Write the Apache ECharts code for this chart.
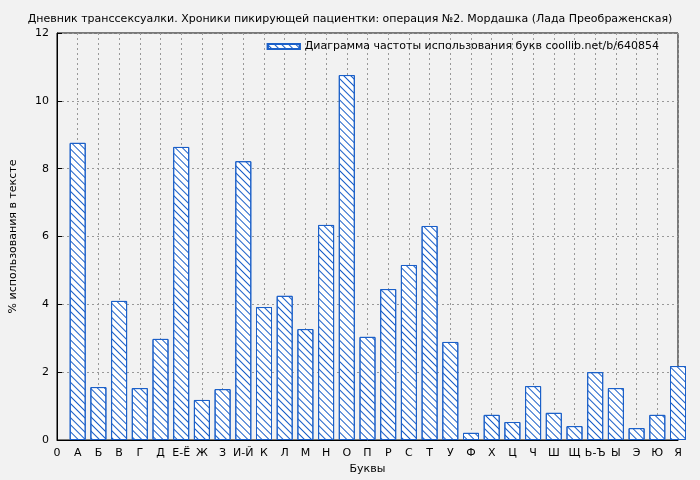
<!DOCTYPE html>
<html>
<head>
<meta charset="utf-8">
<script src="https://cdn.jsdelivr.net/npm/echarts@6/dist/echarts.min.js"></script>
<style>html,body{margin:0;background:#f2f2f2}#chart{width:700px;height:480px}</style>
</head>
<body>
<div id="chart"></div>
<script>
const letters = ['0', 'А', 'Б', 'В', 'Г', 'Д', 'Е-Ё', 'Ж', 'З', 'И-Й', 'К', 'Л', 'М', 'Н', 'О', 'П', 'Р', 'С', 'Т', 'У', 'Ф', 'Х', 'Ц', 'Ч', 'Ш', 'Щ', 'Ь-Ъ', 'Ы', 'Э', 'Ю', 'Я'];
const values = [8.76, 1.56, 4.10, 1.53, 2.98, 8.64, 1.18, 1.50, 8.22, 3.92, 4.25, 3.27, 6.34, 10.76, 3.04, 4.45, 5.16, 6.31, 2.89, 0.21, 0.74, 0.53, 1.59, 0.80, 0.41, 2.00, 1.53, 0.35, 0.74, 2.18];

const chart = echarts.init(document.getElementById('chart'));
const font = 'DejaVu Sans';
const dotted = { show: true, lineStyle: { color: '#999', type: [2, 3], width: 1 } };
const hatch = {
  color: '#ffffff',
  borderColor: '#1a5fc8',
  borderWidth: 1,
  decal: {
    symbol: 'rect',
    symbolSize: 1,
    color: '#1a5fc8',
    dashArrayX: [1, 0],
    dashArrayY: [1, 4],
    rotation: Math.PI / 4
  }
};

chart.setOption({
  backgroundColor: '#f2f2f2',
  animation: false,
  textStyle: { fontFamily: font },
  title: {
    text: 'Дневник транссексуалки. Хроники пикирующей пациентки: операция №2. Мордашка (Лада Преображенская)',
    left: 'center', top: 9,
    textStyle: { fontSize: 11, fontWeight: 'normal', color: '#000', fontFamily: font }
  },
  legend: {
    top: 36, right: 36,
    itemWidth: 32, itemHeight: 5,
    textStyle: { fontSize: 11, color: '#000', fontFamily: font },
    data: [{ name: 'Диаграмма частоты использования букв coollib.net/b/640854', icon: 'rect' }]
  },
  grid: { left: 53, right: 22, top: 33, bottom: 40, show: true, borderColor: '#000', borderWidth: 1, backgroundColor: 'transparent' },
  xAxis: {
    type: 'value', min: 0, max: 30, interval: 1,
    name: 'Буквы', nameLocation: 'middle', nameGap: 24,
    nameTextStyle: { fontSize: 11, color: '#000' },
    axisLine: { lineStyle: { color: '#000' } },
    axisTick: { inside: true, length: 5, lineStyle: { color: '#000' } },
    axisLabel: { fontSize: 11, color: '#000', formatter: v => letters[v] || '' },
    splitLine: dotted
  },
  yAxis: {
    type: 'value', min: 0, max: 12, interval: 2,
    name: '% использования в тексте', nameLocation: 'middle', nameGap: 38,
    nameTextStyle: { fontSize: 11, color: '#000' },
    axisLine: { lineStyle: { color: '#000' } },
    axisTick: { inside: true, length: 5, lineStyle: { color: '#000' } },
    axisLabel: { fontSize: 11, color: '#000' },
    splitLine: dotted
  },
  series: [{
    name: 'Диаграмма частоты использования букв coollib.net/b/640854',
    type: 'bar',
    barWidth: 16,
    clip: true,
    itemStyle: hatch,
    data: values.map((v, i) => [i + 1, v])
  }]
});
</script>
</body>
</html>
